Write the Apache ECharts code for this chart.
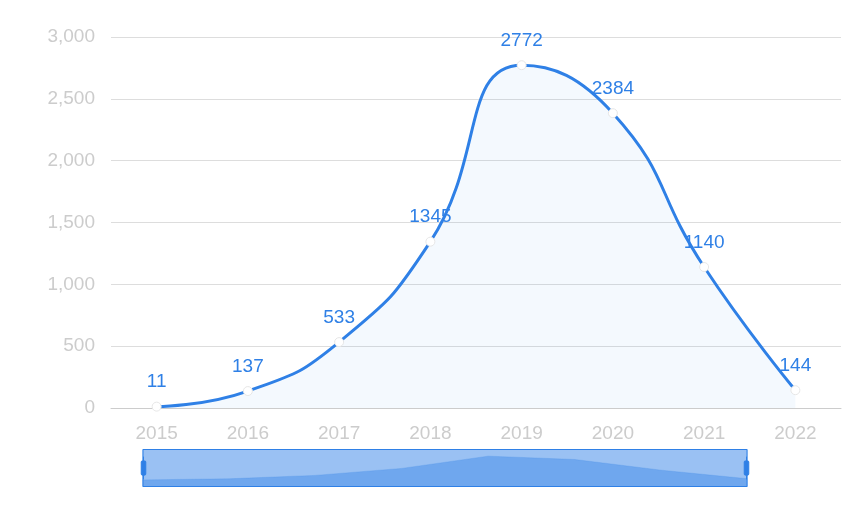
<!DOCTYPE html>
<html><head><meta charset="utf-8">
<script src="https://cdn.jsdelivr.net/npm/echarts@6/dist/echarts.min.js"></script>
<style>html,body{margin:0;padding:0;background:#fff}#c{width:856px;height:514px}</style>
</head><body><div id="c"></div>
<script>
const years = ['2015','2016','2017','2018','2019','2020','2021','2022'];
const values = [11, 137, 533, 1345, 2772, 2384, 1140, 144];
const yTicks = [0, 500, 1000, 1500, 2000, 2500, 3000];
const chart = echarts.init(document.getElementById('c'));
const blue = '#2f80e6';
chart.setOption({
  animation: false,
  textStyle: {fontFamily: 'Liberation Sans, Arial, sans-serif'},
  grid: {left: 111, right: 15, top: 37, bottom: 106},
  xAxis: {type: 'category', data: years, boundaryGap: true,
    axisLine: {lineStyle: {color: '#ccc'}}, axisTick: {show: false},
    axisLabel: {color: '#ccc', fontSize: 19, margin: 16}},
  yAxis: {type: 'value', min: yTicks[0], max: yTicks[yTicks.length-1], interval: 500,
    axisLine: {show: false}, axisTick: {show: false},
    splitLine: {lineStyle: {color: '#ddd'}},
    axisLabel: {color: '#ccc', fontSize: 19, margin: 16}},
  dataZoom: [{type: 'slider', start: 0, end: 100, left: 140, right: 111, top: 449, height: 38,
    borderColor: blue, fillerColor: 'rgba(47,128,230,0.4)', backgroundColor: 'rgba(47,128,230,0.15)',
    showDetail: false, moveHandleSize: 0, handleSize: '60%',
    handleStyle: {color: blue, borderColor: blue},
    dataBackground: {lineStyle: {color: blue, opacity: 0.4}, areaStyle: {color: blue, opacity: 0.4}},
    selectedDataBackground: {lineStyle: {color: blue, opacity: 0.4}, areaStyle: {color: blue, opacity: 0.4}}
  }],
  series: [{type: 'line', data: values, smooth: true,
    symbol: 'circle', symbolSize: 9,
    itemStyle: {color: '#fff', borderColor: '#e6e6e6', borderWidth: 1},
    lineStyle: {color: blue, width: 3},
    areaStyle: {color: 'rgba(47,128,230,0.07)'},
    label: {show: true, position: 'top', color: blue, fontSize: 19, distance: 10}
  }]
});
</script></body></html>
